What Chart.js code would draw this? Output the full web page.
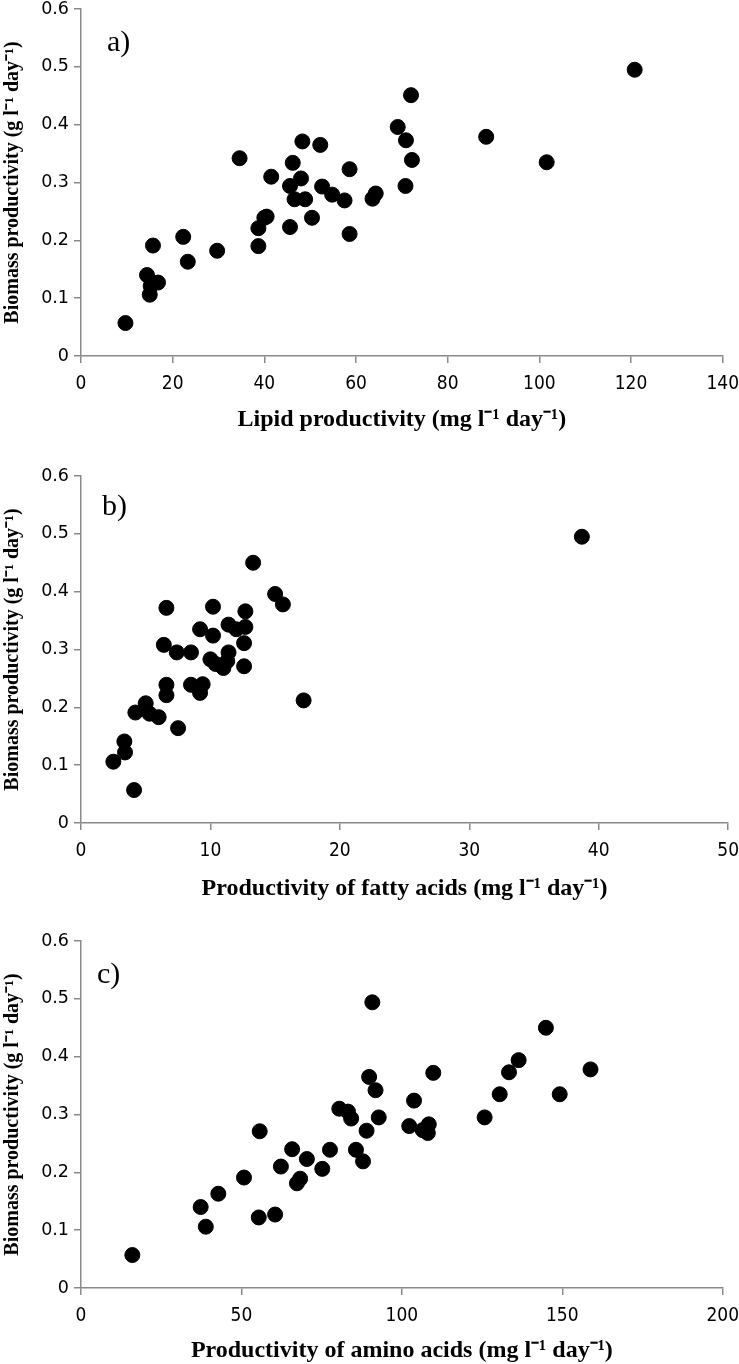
<!DOCTYPE html>
<html>
<head>
<meta charset="utf-8">
<script src="https://cdn.jsdelivr.net/npm/chart.js@4"></script>
<style>
  body { margin: 0; background: #fff; overflow: hidden; }
  canvas { position: absolute; left: 0; }
</style>
</head>
<body>
<canvas id="chartA" width="749" height="440" style="top:0px"></canvas>
<canvas id="chartB" width="749" height="440" style="top:467px"></canvas>
<canvas id="chartC" width="749" height="440" style="top:932px"></canvas>
<script>
// panel a) lipid productivity vs biomass productivity
const lipidX = [9.7, 15.0, 15.2, 14.4, 16.8, 15.7, 22.3, 23.3, 29.7, 34.6, 38.7, 38.7, 40.0, 40.5, 41.5, 45.6, 45.6, 46.2, 46.6, 48.0, 48.3, 48.9, 50.4, 52.2, 52.6, 54.8, 57.5, 58.6, 58.6, 63.6, 64.3, 69.1, 70.9, 70.8, 72.0, 72.2, 88.4, 101.6, 120.8];
const lipidY = [0.057, 0.106, 0.121, 0.140, 0.127, 0.191, 0.206, 0.163, 0.182, 0.342, 0.190, 0.221, 0.239, 0.241, 0.310, 0.223, 0.294, 0.334, 0.271, 0.307, 0.371, 0.271, 0.239, 0.365, 0.293, 0.279, 0.269, 0.211, 0.323, 0.272, 0.281, 0.396, 0.373, 0.294, 0.451, 0.339, 0.379, 0.335, 0.495];

// panel b) fatty acids
const fattyX = [2.5, 3.35, 3.4, 4.1, 4.2, 5.0, 5.3, 6.0, 7.5, 6.6, 6.6, 8.5, 9.2, 9.4, 6.4, 7.4, 8.5, 6.6, 9.2, 10.2, 10.2, 10.0, 10.4, 11.0, 11.3, 11.4, 11.4, 12.0, 12.7, 12.7, 12.6, 12.6, 13.3, 15.0, 15.6, 17.2, 38.7];
const fattyY = [0.106, 0.141, 0.122, 0.057, 0.191, 0.207, 0.189, 0.183, 0.164, 0.239, 0.221, 0.239, 0.225, 0.240, 0.308, 0.295, 0.295, 0.372, 0.335, 0.374, 0.324, 0.283, 0.275, 0.268, 0.280, 0.295, 0.343, 0.335, 0.339, 0.366, 0.311, 0.271, 0.450, 0.396, 0.378, 0.212, 0.495];

// panel c) amino acids
const aminoX = [16.0, 37.3, 38.9, 42.8, 50.8, 55.4, 60.5, 55.7, 62.3, 65.8, 67.3, 68.3, 70.4, 75.2, 77.6, 80.5, 83.2, 84.2, 85.7, 87.9, 89.0, 89.8, 91.8, 92.8, 90.8, 102.3, 103.8, 106.5, 108.1, 108.4, 109.8, 125.8, 130.5, 133.4, 136.4, 144.9, 149.2, 158.8];
const aminoY = [0.057, 0.140, 0.106, 0.163, 0.191, 0.122, 0.127, 0.271, 0.210, 0.240, 0.181, 0.189, 0.223, 0.206, 0.239, 0.310, 0.305, 0.293, 0.239, 0.219, 0.272, 0.365, 0.342, 0.295, 0.494, 0.280, 0.324, 0.273, 0.268, 0.283, 0.372, 0.295, 0.335, 0.373, 0.394, 0.450, 0.335, 0.378];

const yTicks = [0, 0.1, 0.2, 0.3, 0.4, 0.5, 0.6];
const yTitle = 'Biomass productivity (g l\u207B\u00B9 day\u207B\u00B9)';

var axisGray = '#8a8a8a';
var yTickFont = { family: "'DejaVu Sans', sans-serif", size: 17.5, lineHeight: '8px' };
var xTickFont = { family: "'DejaVu Sans Condensed', 'DejaVu Sans', sans-serif", size: 19 };
var xTitleFont = { family: "'Liberation Serif', 'Times New Roman', serif", size: 24, weight: 'bold' };
var yTitleFont = { family: "'Liberation Serif', 'Times New Roman', serif", size: 20, weight: 'bold' };

// draws the "a)", "b)", "c)" letter in the top left of the plot
var panelLabel = {
  id: 'panelLabel',
  afterDraw: function(chart, args, opts) {
    var ctx = chart.ctx;
    ctx.save();
    ctx.fillStyle = '#000';
    ctx.font = "30px 'Liberation Serif', serif";
    ctx.textBaseline = 'middle';
    ctx.fillText(opts.text, chart.chartArea.left + opts.dx, chart.chartArea.top + opts.dy);
    ctx.restore();
  }
};

function toPoints(xs, ys) {
  var pts = [];
  for (var i = 0; i < xs.length; i++) {
    pts.push({ x: xs[i], y: ys[i] });
  }
  return pts;
}

function createChart(id, xs, ys, xMax, xStep, xTitle, label, dx, dy, titleBottom) {
  var ctx = document.getElementById(id).getContext('2d');
  return new Chart(ctx, {
    type: 'scatter',
    data: {
      datasets: [{
        data: toPoints(xs, ys),
        backgroundColor: '#000',
        borderColor: '#000',
        pointRadius: 7.5,
        pointHoverRadius: 7.5
      }]
    },
    plugins: [panelLabel],
    options: {
      responsive: false,
      animation: false,
      devicePixelRatio: 1,
      layout: { padding: 0 },
      plugins: {
        legend: { display: false },
        tooltip: { enabled: false },
        panelLabel: { text: label, dx: dx, dy: dy }
      },
      scales: {
        x: {
          type: 'linear',
          min: 0,
          max: xMax,
          afterFit: function(scale) { scale.height = 84; },
          ticks: { stepSize: xStep, color: '#000', font: xTickFont, padding: 10, maxRotation: 0 },
          grid: { drawOnChartArea: false, drawTicks: true, tickLength: 7, color: axisGray, lineWidth: 1.5 },
          border: { color: axisGray, width: 1.5 },
          title: { display: true, text: xTitle, color: '#000', font: xTitleFont, padding: { top: 0, bottom: titleBottom } }
        },
        y: {
          type: 'linear',
          min: 0,
          max: 0.6,
          afterFit: function(scale) { scale.width = 81; },
          afterBuildTicks: function(scale) {
            scale.ticks = yTicks.map(function(v) { return { value: v }; });
          },
          ticks: {
            color: '#000',
            font: yTickFont,
            padding: 5,
            callback: function(v) { return v === 0 ? '0' : v.toFixed(1); }
          },
          grid: { drawOnChartArea: false, drawTicks: true, tickLength: 7, color: axisGray, lineWidth: 1.5 },
          border: { color: axisGray, width: 1.5 },
          title: { display: true, text: yTitle, color: '#000', font: yTitleFont, padding: { top: 1, bottom: 0 } }
        }
      }
    }
  });
}

createChart('chartA', lipidX, lipidY, 140, 20, 'Lipid productivity (mg l\u207B\u00B9 day\u207B\u00B9)', 'a)', 26, 34, 6);
createChart('chartB', fattyX, fattyY, 50, 10, 'Productivity of fatty acids (mg l\u207B\u00B9 day\u207B\u00B9)', 'b)', 21, 31, 4);
createChart('chartC', aminoX, aminoY, 200, 50, 'Productivity of amino acids (mg l\u207B\u00B9 day\u207B\u00B9)', 'c)', 16, 34, 7);
</script>
</body>
</html>
